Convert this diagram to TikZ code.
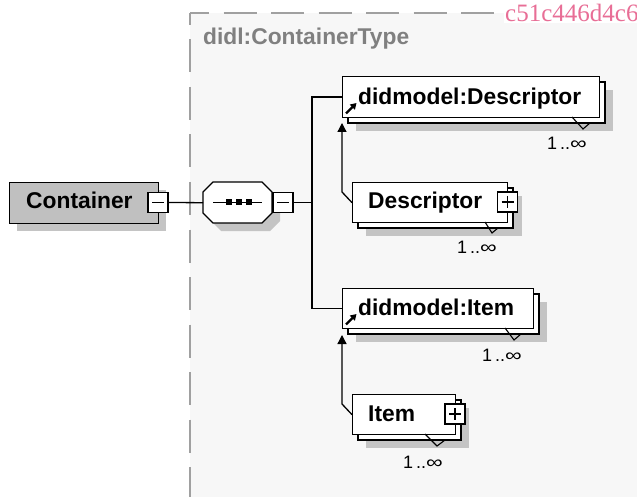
\documentclass[tikz,border=0pt]{standalone}
\usepackage{fontspec}
\usepackage{graphicx}
\setmainfont{Liberation Sans}
\newfontfamily\wmfont{Liberation Serif}
\usetikzlibrary{arrows.meta,calc}

\definecolor{panelbg}{HTML}{F7F7F7}
\definecolor{dashgray}{HTML}{A0A0A0}
\definecolor{shadowgray}{HTML}{C4C4C4}
\definecolor{elemgray}{HTML}{C0C0C0}
\definecolor{typegray}{HTML}{808080}
\definecolor{wmpink}{RGB}{232,110,150}

\newcommand{\occtext}{1\,..\scalebox{1.3}[1]{∞}}

\begin{document}
\begin{tikzpicture}[x=1pt,y=-1pt,
  shadowfill/.style={fill=shadowgray,draw=none},
  backbox/.style={fill=white,draw=black,line width=1.3pt},
  frontbox/.style={rectangle,fill=white,draw=black,line width=1.3pt,inner sep=0pt,anchor=north west},
  lbl/.style={font=\bfseries\fontsize{22.8}{27}\selectfont,inner sep=0pt,anchor=base west},
  occ/.style={font=\fontsize{18}{22}\selectfont,inner sep=0pt,anchor=base},
  conn/.style={draw=black,line width=1.3pt},
  pmbox/.style={rectangle,draw=black,fill=white,line width=1.3pt,minimum width=20pt,minimum height=20pt,inner sep=0pt},
  sign/.style={line width=1.6pt},
  subst/.style={conn,-{Triangle[length=9pt,width=9pt]}},
  refarrow/.style={line width=2.2pt,-{Triangle[length=6pt,width=7pt]}},
  notch/.style={line width=1.1pt},
  dashedge/.style={draw=dashgray,line width=2pt,dash pattern=on 33pt off 14.5pt},
]
\clip (0,0) rectangle (637,497);
\fill[white] (0,0) rectangle (637,497);

% complex type panel
\fill[panelbg] (190,13) rectangle (700,560);
\draw[dashedge,dash phase=14pt] (190,13) -- (700,13);
\draw[dashedge,dash phase=21pt] (190,13) -- (190,560);
\node[lbl,text=typegray] (typename) at (203,45) {didl:ContainerType};

% watermark
\node[font=\wmfont\fontsize{25}{30}\selectfont,text=wmpink,anchor=base west,inner sep=1pt,fill=white] (wm) at (504,22) {c51c446d4c6};

% shadows
\fill[shadowfill] (17,190) rectangle (166,231);
\fill[shadowfill] (221,190) -- (270,190) -- (280,200) -- (280,221) -- (270,231) -- (221,231) -- (211,221) -- (211,200) -- cycle;
\fill[shadowfill] (356,90) rectangle (613,131);
\fill[shadowfill] (366,196) rectangle (522,236);
\fill[shadowfill] (356,302) rectangle (547,342);
\fill[shadowfill] (366,408) rectangle (469,448);

% Container element
\node[frontbox,fill=elemgray,minimum width=149pt,minimum height=41pt] (cont) at (9,182) {};
\node[lbl] (contlbl) at (26,209) {Container};
\node[pmbox] (contm) at (158,202.5) {};
\draw[sign] ($(contm.center)+(-6,0)$) -- ($(contm.center)+(6,0)$);

% sequence compositor
\node[rectangle,minimum width=69pt,minimum height=41pt,inner sep=0pt,anchor=north west] (seq) at (203,182) {};
\draw[line width=1.3pt,fill=white] (213,182) -- (262,182) -- (272,192) -- (272,213) -- (262,223) -- (213,223) -- (203,213) -- (203,192) -- cycle;
\draw[line width=1.3pt] (213,202.5) -- (262,202.5);
\fill (225.5,199) rectangle +(6.5,6.5);
\fill (235.5,199) rectangle +(6.5,6.5);
\fill (245.5,199) rectangle +(6.5,6.5);
\node[pmbox] (seqm) at (283,202.5) {};
\draw[sign] ($(seqm.center)+(-6,0)$) -- ($(seqm.center)+(6,0)$);

\draw[conn] (contm.east) -- (seq.west);
\coordinate (spine) at (312,202.5);
\draw[conn] (seqm.east) -- (spine);

% didmodel:Descriptor
\draw[backbox] (348,82) rectangle (605,123);
\node[frontbox,minimum width=257pt,minimum height=41pt] (dmd) at (342,76) {};
\node[lbl] (dmdlbl) at (358,104.5) {didmodel:Descriptor};
\draw[refarrow] (346,113.5) -- (356.5,103);
\draw[notch] (572,117) -- (583,129) -- (590,123);
\node[occ] (dmdocc) at (567,150) {\occtext};

% Descriptor
\draw[backbox] (358,188) rectangle (513,228);
\node[frontbox,minimum width=155pt,minimum height=40pt] (desc) at (352,182) {};
\node[lbl] (desclbl) at (368,208.5) {Descriptor};
\node[pmbox] (descp) at (507.5,202) {};
\draw[sign] ($(descp.center)+(-6,0)$) -- ($(descp.center)+(6,0)$);
\draw[sign] ($(descp.center)+(0,-6)$) -- ($(descp.center)+(0,6)$);
\draw[notch] (485,222) -- (492,233) -- (498,228);
\node[occ] (descocc) at (477,253) {\occtext};

% didmodel:Item
\draw[backbox] (348,294) rectangle (539,334);
\node[frontbox,minimum width=191pt,minimum height=40pt] (dmi) at (342,288) {};
\node[lbl] (dmilbl) at (358,315.5) {didmodel:Item};
\draw[refarrow] (346,324.5) -- (356.5,314);
\draw[notch] (505,328) -- (514,340) -- (521,334);
\node[occ] (dmiocc) at (502,361) {\occtext};

% Item
\draw[backbox] (358,400) rectangle (461,440);
\node[frontbox,minimum width=103pt,minimum height=40pt] (item) at (352,394) {};
\node[lbl] (itemlbl) at (368,421.5) {Item};
\node[pmbox] (itemp) at (455,414) {};
\draw[sign] ($(itemp.center)+(-6,0)$) -- ($(itemp.center)+(6,0)$);
\draw[sign] ($(itemp.center)+(0,-6)$) -- ($(itemp.center)+(0,6)$);
\draw[notch] (425,434) -- (437,446) -- (445,440);
\node[occ] (itemocc) at (423,468) {\occtext};

% sequence branches
\draw[conn] (dmd.west) -| (spine);
\draw[conn] (dmi.west) -| (spine);

% substitution links
\coordinate (descbend) at (342,192);
\coordinate (dmdtip) at (342,123);
\draw[subst] (desc.west) -- (descbend) -- (dmdtip);
\coordinate (itembend) at (342,404);
\coordinate (dmitip) at (342,335);
\draw[subst] (item.west) -- (itembend) -- (dmitip);
\end{tikzpicture}
\end{document}
